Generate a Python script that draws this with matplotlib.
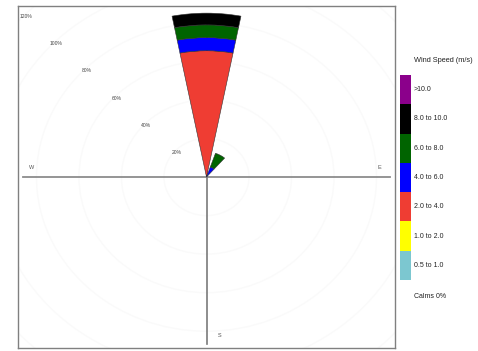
import matplotlib
matplotlib.use("Agg")
import matplotlib.pyplot as plt
from matplotlib.patches import Wedge, Ellipse
import numpy as np

plt.rcParams['font.family'] = ['Liberation Sans', 'DejaVu Sans']

# ---- data ----
speed_bins = ["0.5 to 1.0", "1.0 to 2.0", "2.0 to 4.0", "4.0 to 6.0",
              "6.0 to 8.0", "8.0 to 10.0", ">10.0"]
bin_colors = ["#7cc7d0", "#ffff00", "#ef3d33", "#0000ff",
              "#006400", "#000000", "#8b008b"]
directions = [0, 30]
# percent frequency per speed bin for each direction
freq_N   = [0.0, 0.0, 65.5, 6.8, 6.6, 6.1, 0.0]
freq_NNE = [0.0, 0.0, 0.0, 5.5, 7.5, 0.0, 0.0]
freqs = [freq_N, freq_NNE]
grid_pcts = [20, 40, 60, 80, 100, 120]
grid_labels = ["20%", "40%", "60%", "80%", "100%", "120%"]
calms_label = "Calms 0%"
legend_title = "Wind Speed (m/s)"
half_width = 11  # degrees

W, H = 478, 351
fig = plt.figure(figsize=(W / 100, H / 100), dpi=100)
ax = fig.add_axes([18 / W, 3 / H, 377 / W, 342 / H])
lim = 88.7
ax.set_xlim(-lim, lim)
ax.set_ylim(-lim, lim)
ax.set_xticks([]); ax.set_yticks([])
for s in ax.spines.values():
    s.set_color("#808080"); s.set_linewidth(1.0)

# faint grid circles
for p in grid_pcts:
    ax.add_patch(Ellipse((0, 0), 2 * p, 2 * p, fill=False,
                         edgecolor="#fafafa", lw=1.0, zorder=1))
for p, lab in zip(grid_pcts, grid_labels):
    a = np.deg2rad(45)
    ax.text(-p * np.sin(a), p * np.cos(a) - 1.5, lab, fontsize=3.6,
            color="#444444", ha="center", va="center", zorder=2)

# crosshair
ax.plot([-86.3, 86.3], [0, 0], color="#8c8c8c", lw=1.3, zorder=2)
ax.plot([0, 0], [-86.5, 80], color="#7a7a7a", lw=1.2, zorder=2)
ax.text(-82.5, 5, "W", fontsize=4, color="#555555", ha="center", va="center")
ax.text(81.5, 5, "E", fontsize=4, color="#555555", ha="center", va="center")
ax.text(6, -82, "S", fontsize=4, color="#555555", ha="center", va="center")

# wedges
for d, f in zip(directions, freqs):
    cum = 0.0
    for val, col in zip(f, bin_colors):
        if val <= 0:
            continue
        t1 = 90 - d - half_width
        t2 = 90 - d + half_width
        ax.add_patch(Wedge((0, 0), cum + val, t1, t2, width=val,
                           facecolor=col, edgecolor="#333333", lw=0.4, zorder=3))
        cum += val

# legend colour key
lax = fig.add_axes([400 / W, (H - 280) / H, 10.5 / W, 205 / H])
n = len(speed_bins)
lax.bar(np.zeros(n), np.ones(n), bottom=np.arange(n), width=1,
        color=bin_colors, edgecolor="none")
lax.set_xlim(-0.5, 0.5); lax.set_ylim(0, n)
lax.axis("off")
for i, lab in enumerate(speed_bins):
    y_fig = ((H - 280) + (i + 0.5) * 205 / n) / H
    fig.text(414 / W, y_fig, lab, fontsize=5, color="#222222", va="center")
fig.text(414 / W, 1 - 60 / H, legend_title, fontsize=5.3, color="#222222", va="center")
fig.text(414 / W, 1 - 297 / H, calms_label, fontsize=5, color="#222222", va="center")

fig.savefig("out.png", dpi=100)
